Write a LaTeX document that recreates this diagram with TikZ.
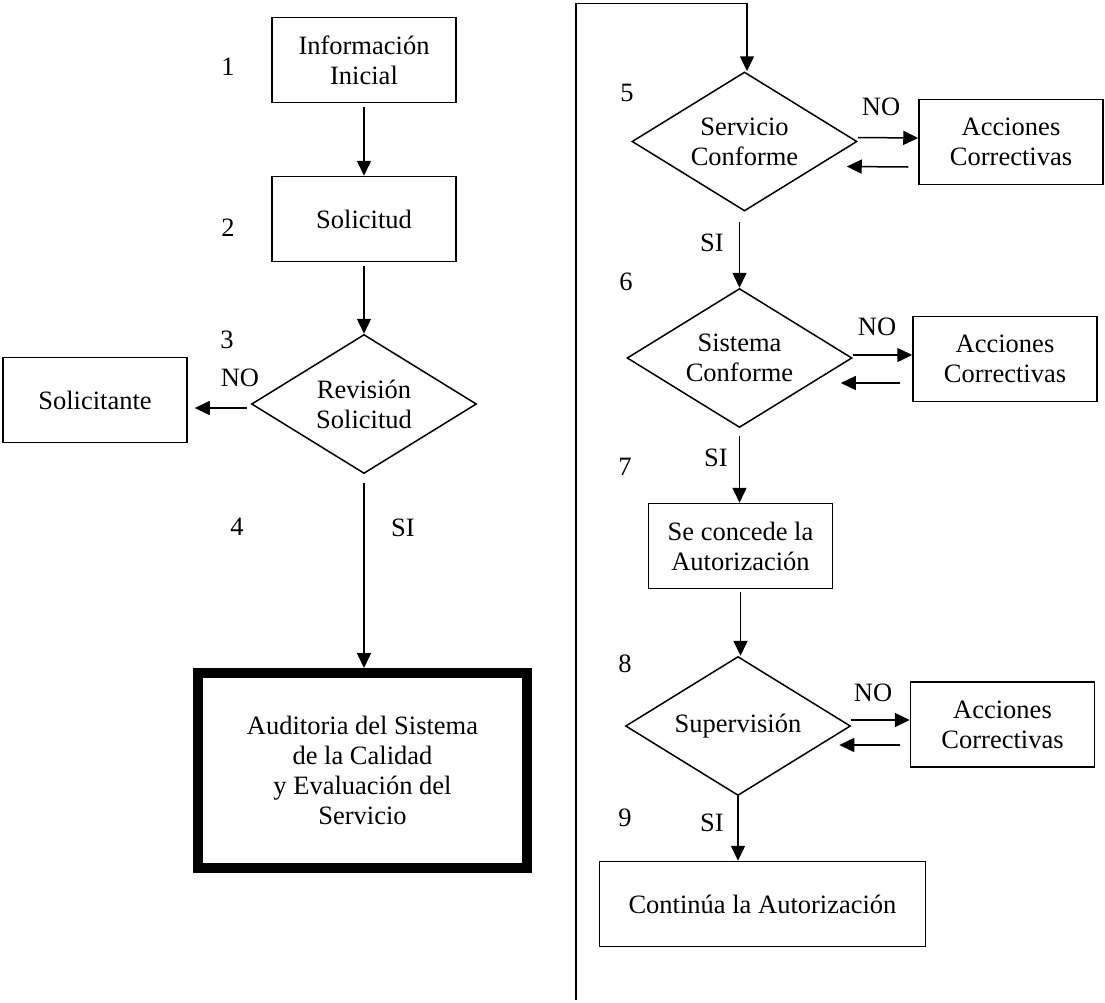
\documentclass[tikz,border=0pt]{standalone}
\usepackage{fontspec}
\setmainfont{Liberation Serif}
\usetikzlibrary{arrows.meta,positioning,shapes.geometric,calc}

\begin{document}
\begin{tikzpicture}[x=1pt,y=-1pt,>={Triangle[length=15pt,width=14pt]},
  font=\fontsize{26.5}{30}\selectfont,
  box/.style={draw,line width=1.5pt,align=center,inner sep=2pt,minimum width=184pt,minimum height=85pt},
  decision/.style={draw,diamond,line width=1.5pt,aspect=1.6,inner sep=0pt,align=center,minimum width=225pt,minimum height=139pt},
  arrow/.style={->,line width=1.5pt},
  tag/.style={inner sep=0pt}]
  \useasboundingbox (0,0) rectangle (1105,1002);
  \node[box] (info) at (364,60) {Información\\Inicial};
  \node[box] (solicitud) at (364,219) {Solicitud};
  \node[decision] (revision) at (364,404) {Revisión\\Solicitud};
  \node[box] (solicitante) at (95,400) {Solicitante};
  \node[box,line width=10pt,minimum width=329pt,minimum height=195pt] (auditoria) at (362.5,770.5)
    {Auditoria del Sistema\\de la Calidad\\y Evaluación del\\Servicio};
  \node[decision] (servicio) at (744.5,141.5) {Servicio\\Conforme};
  \node[box] (acc1) at (1011,142) {Acciones\\Correctivas};
  \node[decision] (sistema) at (739.5,358) {Sistema\\Conforme};
  \node[box] (acc2) at (1005,359) {Acciones\\Correctivas};
  \node[box] (concede) at (740.5,546) {Se concede la\\Autorización};
  \node[decision] (supervision) at (738,726) {Supervisión};
  \node[box] (acc3) at (1002.5,724.5) {Acciones\\Correctivas};
  \node[box,minimum width=326pt] (continua) at (762.5,904) {Continúa la Autorización};
  \node[tag] (n1) at (228,67) {1};
  \node[tag] (n2) at (228,228) {2};
  \node[tag] (n3) at (227,340) {3};
  \node[tag] (n4) at (237,527) {4};
  \node[tag] (n5) at (627,93) {5};
  \node[tag] (n6) at (626,282) {6};
  \node[tag] (n7) at (625,467) {7};
  \node[tag] (n8) at (625,664) {8};
  \node[tag] (n9) at (625,818) {9};
  \node[tag] (no3) at (240,378) {NO};
  \node[tag] (no5) at (881,107) {NO};
  \node[tag] (no6) at (877,327) {NO};
  \node[tag] (no8) at (873,693) {NO};
  \node[tag] (si4) at (403,528) {SI};
  \node[tag] (si6) at (712,243) {SI};
  \node[tag] (si7) at (716,458) {SI};
  \node[tag] (si9) at (712,823) {SI};
  \draw[arrow,shorten <=4pt] (info) -- (solicitud);
  \draw[arrow,shorten <=4pt] (solicitud) -- (revision);
  \draw[arrow] ([xshift=-4pt,yshift=-4pt]revision.west) -- ([xshift=7pt,yshift=-8pt]solicitante.east);
  \draw[arrow,shorten <=9pt] (revision.south) -- (revision.south |- auditoria.north);
  \coordinate (pie) at (576,1000);
  \draw[arrow] (pie) |- ([xshift=2.5pt,yshift=68pt]servicio.north) -- ([xshift=2.5pt]servicio.north);
  \draw[arrow] ([yshift=4pt]servicio.east) -- ([yshift=4pt]acc1.west);
  \draw[arrow] ([xshift=-10pt,yshift=-25pt]acc1.west) -- ([xshift=-11pt,yshift=-25pt]servicio.east);
  \draw[arrow,shorten <=10pt] (servicio.south -| sistema.north) -- (sistema.north);
  \draw[arrow] ([yshift=3pt]sistema.east) -- ([yshift=4pt]acc2.west);
  \draw[arrow] ([xshift=-12pt,yshift=-24pt]acc2.west) -- ([xshift=-12pt,yshift=-25pt]sistema.east);
  \draw[arrow,shorten <=8pt] (sistema.south) -- (sistema.south |- concede.north);
  \draw[arrow,shorten <=3pt] (concede.south) -- (concede.south |- supervision.north);
  \draw[arrow] ([yshift=6pt]supervision.east) -- ([yshift=4.5pt]acc3.west);
  \draw[arrow] ([xshift=-10pt,yshift=-20.5pt]acc3.west) -- ([xshift=-12pt,yshift=-19pt]supervision.east);
  \draw[arrow] (supervision.south) -- (supervision.south |- continua.north);
\end{tikzpicture}
\end{document}
